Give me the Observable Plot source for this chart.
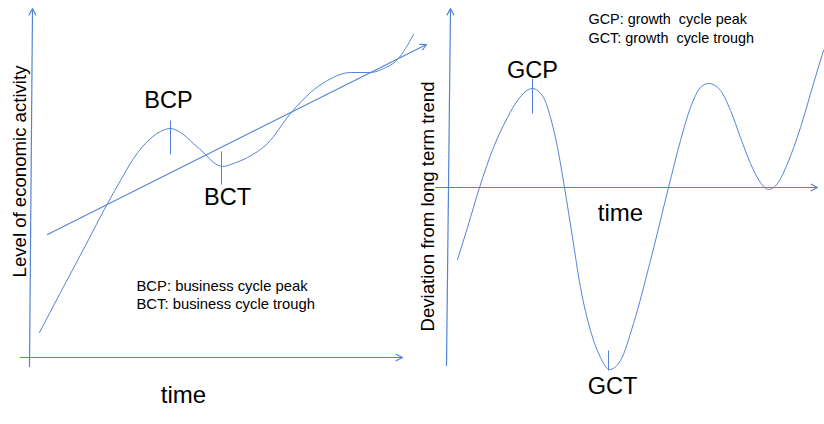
<!DOCTYPE html>
<html>
<head>
<meta charset="utf-8">
<script src="https://cdn.jsdelivr.net/npm/d3@7"></script>
<script src="https://cdn.jsdelivr.net/npm/@observablehq/plot@0.6"></script>
<style>
  html, body { margin: 0; padding: 0; background: #fff; }
  #wrap { display: flex; width: 824px; height: 424px; }
  #wrap svg { overflow: visible; }
</style>
</head>
<body>
<div id="wrap"></div>
<script>
// ---------- Left panel: business cycle (level of economic activity) ----------
const bcTime  = [39, 60, 85, 107, 120, 133, 150, 160, 170, 180, 193, 205, 213, 222, 233, 247, 267, 290, 310, 327, 350, 370, 383, 397, 405, 413];
const bcLevel = [92, 132, 179, 221, 244, 266, 286, 293, 296, 292, 281, 270, 262, 258, 261, 267, 281, 311, 332, 344, 352, 352, 356, 365, 376, 390];
const trendTime  = [47, 426];
const trendLevel = [190, 380];
const bcMarkers = [
  {label: "BCP", t: 170, top: 304, bottom: 270, labelT: 168, labelLevel: 324},
  {label: "BCT", t: 221, top: 273, bottom: 240, labelT: 227, labelLevel: 227}
];
const bcLegend = ["BCP: business cycle peak", "BCT: business cycle trough"];
const bcAxisX = {t1: 20, t2: 402, level: 67};
const bcAxisY = {t1: 29, t2: 32, l1: 58, l2: 416};

// ---------- Right panel: growth cycle (deviation from long term trend) ----------
const gcTime = [45, 55, 67, 81, 95, 105, 120, 131, 138, 145, 152, 160, 168, 178, 188, 197, 208, 221, 238, 256, 268, 278, 288, 296, 308, 318, 328, 338, 348, 356, 365, 375, 388, 401, 411];
const gcDev  = [-72, -40, 0, 40, 70, 87, 99, 90, 70, 40, 0, -50, -100, -143, -170, -182, -173, -136, -73, 0, 47, 80, 100, 104, 97, 77, 50, 24, 5, -2, 4, 24, 60, 104, 137];
const gcMarkers = [
  {label: "GCP", t: 120, top: 109, bottom: 74, labelT: 120, labelDev: 117},
  {label: "GCT", t: 196, top: -163, bottom: -183, labelT: 200, labelDev: -199}
];
const gcLegend = ["GCP: growth  cycle peak", "GCT: growth  cycle trough"];
const gcAxisX = {t1: 23, t2: 405, dev: 0};
const gcAxisY = {t1: 34, t2: 38, d1: -178, d2: 179};

const BLUE = "#5384d6";
const FONT = "'Liberation Sans', Arial, sans-serif";

const bcData = bcTime.map((t, i) => ({t, v: bcLevel[i]}));
const gcData = gcTime.map((t, i) => ({t, v: gcDev[i]}));

const left = Plot.plot({
  width: 412, height: 424,
  marginTop: 0, marginRight: 0, marginBottom: 0, marginLeft: 0,
  x: {domain: [0, 412], axis: null},
  y: {domain: [0, 424], axis: null},
  style: {fontFamily: FONT, overflow: "visible", background: "transparent"},
  marks: [
    Plot.arrow([bcAxisY], {x1: "t1", y1: "l1", x2: "t2", y2: "l2", stroke: BLUE, strokeWidth: 1.2, headLength: 9, headAngle: 55}),
    Plot.arrow([bcAxisX], {x1: "t1", y1: "level", x2: "t2", y2: "level", stroke: BLUE, strokeWidth: 1.2, headLength: 9, headAngle: 55}),
    Plot.arrow([{t1: trendTime[0], l1: trendLevel[0], t2: trendTime[1], l2: trendLevel[1]}],
      {x1: "t1", y1: "l1", x2: "t2", y2: "l2", stroke: BLUE, strokeWidth: 1.1, headLength: 9, headAngle: 55}),
    Plot.line(bcData, {x: "t", y: "v", curve: "monotone-x", stroke: BLUE, strokeWidth: 1}),
    Plot.link(bcMarkers, {x1: "t", x2: "t", y1: "top", y2: "bottom", stroke: BLUE, strokeWidth: 1}),
    Plot.text(bcMarkers, {x: "labelT", y: "labelLevel", text: "label", fontSize: 23.5, fill: "#000", lineAnchor: "middle"}),
    Plot.text(bcLegend, {x: 136, y: (d, i) => 138 - i * 18, text: d => d, fontSize: 14.8, textAnchor: "start", lineAnchor: "middle", fill: "#000"}),
    Plot.text(["time"], {x: 183, y: 29, text: d => d, fontSize: 24, fill: "#000", lineAnchor: "middle"}),
    Plot.text(["Level of economic activity"], {x: 20, y: 253, text: d => d, rotate: -90, fontSize: 18.6, fill: "#000", lineAnchor: "middle"})
  ]
});

const right = Plot.plot({
  width: 412, height: 424,
  marginTop: 0, marginRight: 0, marginBottom: 0, marginLeft: 0,
  x: {domain: [0, 412], axis: null},
  y: {domain: [-237, 187], axis: null},
  style: {fontFamily: FONT, overflow: "visible", background: "transparent"},
  marks: [
    Plot.arrow([gcAxisY], {x1: "t1", y1: "d1", x2: "t2", y2: "d2", stroke: BLUE, strokeWidth: 1.2, headLength: 9, headAngle: 55}),
    Plot.arrow([gcAxisX], {x1: "t1", y1: "dev", x2: "t2", y2: "dev", stroke: BLUE, strokeWidth: 1.2, headLength: 9, headAngle: 55}),
    Plot.line(gcData, {x: "t", y: "v", curve: "monotone-x", stroke: BLUE, strokeWidth: 1}),
    Plot.link(gcMarkers, {x1: "t", x2: "t", y1: "top", y2: "bottom", stroke: BLUE, strokeWidth: 1}),
    Plot.text(gcMarkers, {x: "labelT", y: "labelDev", text: "label", fontSize: 23.5, fill: "#000", lineAnchor: "middle"}),
    Plot.text(gcLegend, {x: 176, y: (d, i) => 168 - i * 19, text: d => d, fontSize: 14.4, textAnchor: "start", lineAnchor: "middle", fill: "#000"}),
    Plot.text(["time"], {x: 208, y: -26, text: d => d, fontSize: 24, fill: "#000", lineAnchor: "middle"}),
    Plot.text(["Deviation from long term trend"], {x: 16, y: -19, text: d => d, rotate: -90, fontSize: 18.6, fill: "#000", lineAnchor: "middle"})
  ]
});

const wrap = document.getElementById("wrap");
wrap.appendChild(left);
wrap.appendChild(right);
</script>
</body>
</html>
